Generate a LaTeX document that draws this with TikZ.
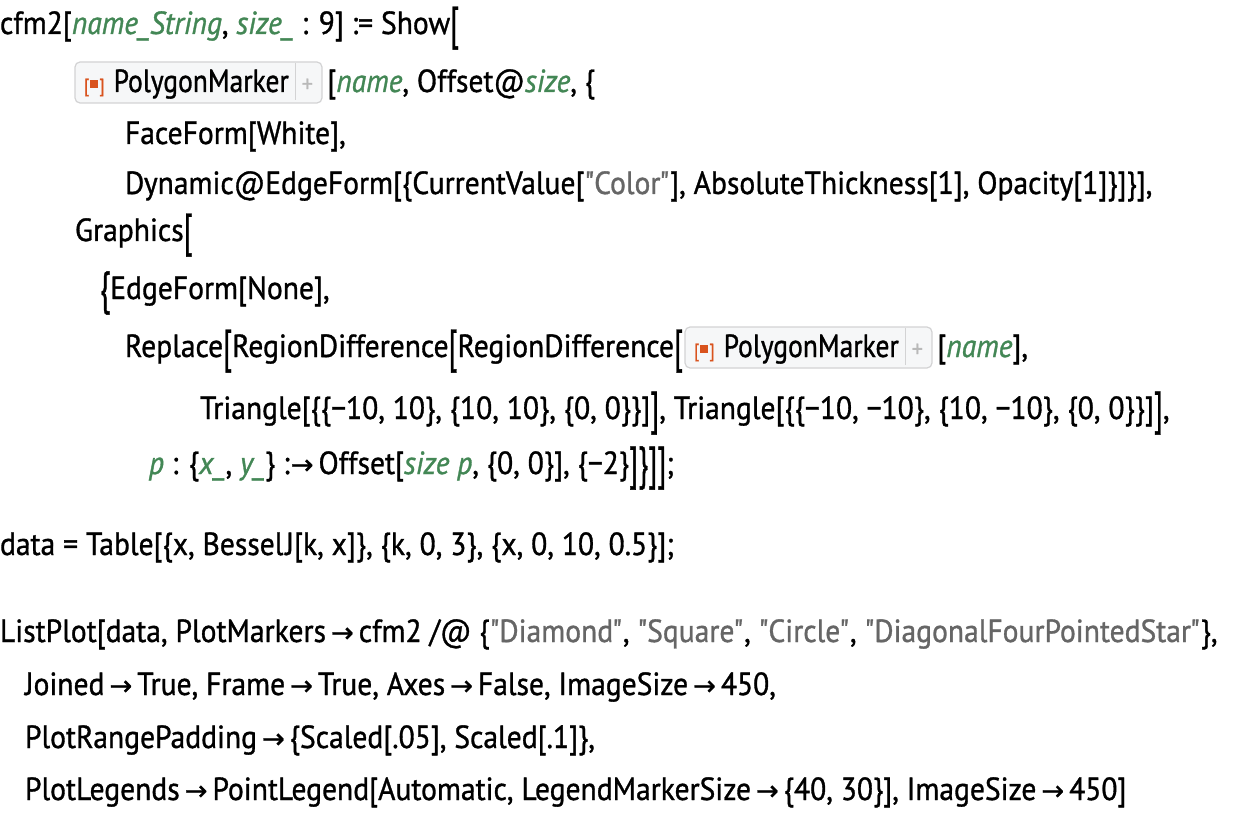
\documentclass[tikz,border=0pt]{standalone}
\usepackage{fontspec}
\setmainfont[FakeStretch=0.924,FakeBold=1]{PT Sans}
\newfontfamily\symfont[Scale=0.85,FakeBold=1]{DejaVu Sans}
\usepackage{graphicx}
\usepackage{xcolor}
\usetikzlibrary{positioning}

\definecolor{codegreen}{RGB}{67,135,85}
\definecolor{strgray}{RGB}{102,102,102}
\definecolor{pmorange}{RGB}{217,83,30}
\definecolor{pmfill}{RGB}{246,247,248}
\definecolor{pmline}{RGB}{211,211,212}

\newcommand{\gv}[1]{\textcolor{codegreen}{\itshape #1}}
\newcommand{\str}[1]{\textcolor{strgray}{\textquotedbl\kern-1pt#1\kern-1pt\textquotedbl}}
\newcommand{\ra}{\hspace{5pt}{\symfont →}\hspace{5pt}}
\newcommand{\tall}[1]{\raisebox{-5pt}{\scalebox{1}[1.45]{#1}}}
\newcommand{\pmicon}{\textcolor{pmorange}{\fontsize{19}{19}\selectfont[\kern1pt\rule[4pt]{8pt}{8pt}\kern1pt]}}
\newcommand{\pmtext}{\pmicon\hspace{9pt}\scalebox{0.93}[1]{PolygonMarker}\hspace{6pt}\textcolor{pmline}{\rule[-8pt]{1pt}{37pt}}\hspace{6pt}\textcolor{gray!55}{\fontsize{24}{24}\selectfont +}}

\tikzset{
  code/.style={anchor=base west, inner sep=0pt, outer sep=0pt, font=\fontsize{32}{32}\selectfont},
  pmbox/.style={code, rounded corners=5pt, draw=pmline, fill=pmfill, line width=1.2pt,
    inner xsep=9pt, inner ysep=6pt, text height=24pt, text depth=5pt},
}

\begin{document}
\begin{tikzpicture}[x=1pt,y=-1pt]
  \useasboundingbox[fill=white] (0,0) rectangle (1250,826);

  % cfm2 definition
  \node[code] (l1) at (0,34) {cfm2[\gv{name\_String}, \gv{size\_} : 9] := Show\tall{[}};
  \node[pmbox] (pm1) at (75,92) {\pmtext};
  \node[code] (l2) at (pm1.base east) {\,[\gv{name}, Offset@\gv{size}, \{};
  \node[code] (l3) at (125,144) {FaceForm[White],};
  \node[code] (l4) at (125,194) {Dynamic@EdgeForm[\{CurrentValue[\str{Color}], AbsoluteThickness[1], Opacity[1]\}]\}],};
  \node[code] (l5) at (75,241) {Graphics\tall{[}};
  \node[code] (l6) at (100,299) {\tall{\{}EdgeForm[None],};
  \node[code] (l7) at (125,357) {Replace\tall{[}RegionDifference\tall{[}RegionDifference\tall{[}};
  \node[pmbox] (pm2) at ([xshift=2pt]l7.base east) {\pmtext};
  \node[code] (l7b) at (pm2.base east) {\,[\gv{name}],};
  \node[code] (l8) at (200,419) {Triangle[\{\{−10, 10\}, \{10, 10\}, \{0, 0\}\}]\tall{]}, Triangle[\{\{−10, −10\}, \{10, −10\}, \{0, 0\}\}]\tall{]},};
  \node[code] (l9) at (149,474) {\gv{p} : \{\gv{x\_}, \gv{y\_}\} :\kern-4pt\ra Offset[\gv{size p}, \{0, 0\}], \{−2\}\tall{]}\tall{\}}\tall{]}\tall{]};};

  % data and plot
  \node[code] (l11) at (0,555) {data = Table[\{x, Bessel\kern2pt J[k, x]\}, \{k, 0, 3\}, \{x, 0, 10, 0.5\}];};
  \node[code] (l13) at (0,642) {ListPlot[data, PlotMarkers\ra cfm2 /@ \{\str{Diamond}, \str{Square}, \str{Circle}, \str{DiagonalFourPointedStar}\},};
  \node[code] (l14) at (25,695) {Joined\ra True, Frame\ra True, Axes\ra False, ImageSize\ra 450,};
  \node[code] (l15) at (25,748) {PlotRangePadding\ra\{Scaled[.05], Scaled[.1]\},};
  \node[code] (l16) at (25,800) {PlotLegends\ra PointLegend[Automatic, LegendMarkerSize\ra\{40, 30\}], ImageSize\ra 450]};
\end{tikzpicture}
\end{document}
